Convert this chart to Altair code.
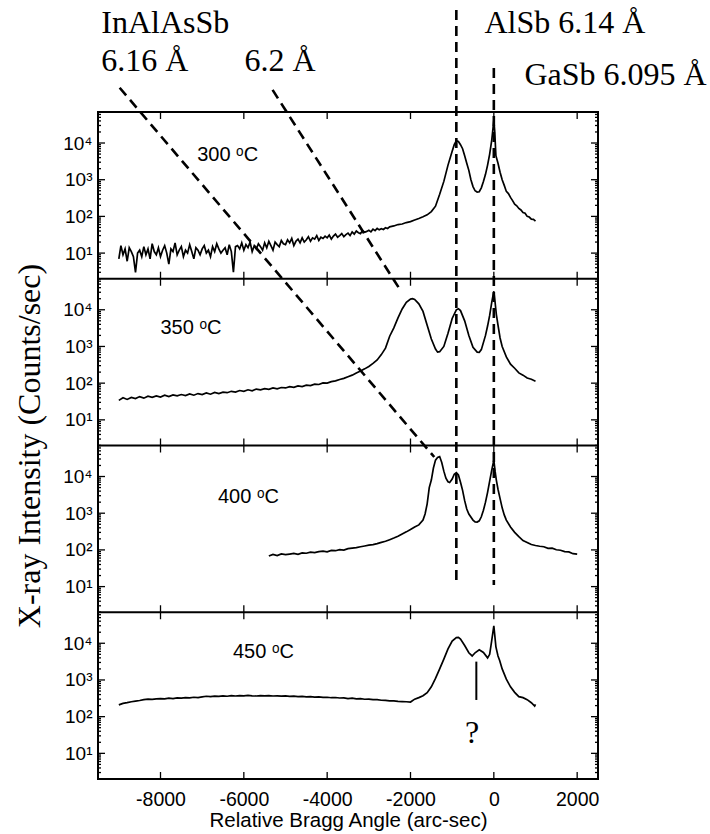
import math
import altair as alt
import pandas as pd

# ---------------- data ----------------
# 300 C scan: noisy baseline on a 50 arcsec grid, then the peak region
X_300_NOISY = list(range(-9000, -2500, 50))
I_300_NOISY = [
    7, 16, 9, 13, 6, 14, 11, 8, 3, 10,
    12, 8, 15, 9, 13, 7, 18, 11, 9, 14,
    8, 12, 16, 10, 5, 13, 11, 19, 9, 12,
    15, 8, 12, 10, 17, 11, 7, 14, 12, 9,
    13, 16, 10, 12, 8, 15, 11, 18, 13, 10,
    12, 14, 9, 17, 11, 3, 15, 16, 13, 19,
    12, 17, 14, 20, 11, 16, 13, 18, 15, 12,
    19, 14, 21, 16, 12, 20, 17, 15, 22, 18,
    17, 23, 19, 25, 16, 21, 24, 19, 26, 20,
    23, 28, 21, 26, 24, 30, 22, 27, 25, 29,
    26, 31, 24, 29, 33, 27, 30, 34, 28, 32,
    35, 30, 38, 33, 40, 36, 34, 41, 37, 39,
    42, 38, 45, 41, 47, 43, 46, 44, 49, 47,
]
X_300_PEAK = [-2500, -2400, -2300, -2200, -2100, -2000, -1900, -1800, -1700, -1600,
              -1500, -1400, -1300, -1200, -1100, -1000,
              -950, -900, -850, -800, -750, -700, -650, -600, -550, -500,
              -450, -400, -350, -300, -250, -200, -150, -100, -50,
              -20, 0, 20, 50,
              100, 150, 200, 250, 300, 350, 400, 450, 500, 550, 600, 650, 700, 750,
              800, 850, 900, 950, 1000]
I_300_PEAK = [52, 55, 60, 62, 68, 72, 80, 88, 98, 110,
              135, 190, 400, 900, 2500, 6000,
              9000, 11500, 11000, 9000, 7000, 4500, 2800, 1800, 1000, 650,
              500, 460, 470, 600, 900, 1400, 2500, 5000, 12000,
              25000, 42000, 22000, 4500,
              2800, 1600, 1000, 700, 480, 420, 330, 270, 215, 195, 165, 150, 128, 122,
              100, 96, 84, 83, 74]

# 350 C scan
X_350_NOISY = list(range(-9000, -2700, 100))
I_350_NOISY = [
    34, 40, 36, 41, 38, 43, 39, 44, 41, 45,
    42, 47, 43, 48, 45, 49, 46, 51, 47, 52,
    49, 54, 50, 56, 52, 57, 55, 60, 57, 63,
    60, 66, 62, 69, 66, 71, 68, 74, 70, 76,
    74, 80, 77, 84, 81, 88, 86, 94, 92, 102,
    100, 110, 115, 126, 135, 150, 165, 190, 215, 245,
    285, 345, 430,
]
X_350_PEAK = [-2700, -2600, -2500, -2400, -2300, -2200, -2100, -2000, -1950, -1900,
              -1800, -1700, -1600, -1500, -1400, -1350, -1300, -1200, -1100, -1000,
              -900, -850, -800, -700, -600, -500, -400, -350, -300, -200,
              -150, -100, -50, 0, 30, 60, 100, 150, 200,
              300, 400, 500, 600, 700, 800, 900, 1000]
I_350_PEAK = [600, 900, 1900, 3200, 6000, 10500, 16000, 19500, 20000, 19000,
              14500, 9000, 3800, 1600, 850, 700, 720, 1000, 2300, 5800,
              10000, 10700, 9500, 5000, 2000, 950, 700, 690, 820, 2000,
              3600, 7000, 16000, 32000, 16000, 7500, 3800, 1700, 1000,
              520, 330, 255, 190, 165, 138, 128, 113]

# 400 C scan
X_400_NOISY = list(range(-5400, -2000, 100))
I_400_NOISY = [
    68, 75, 70, 78, 74, 77, 80, 76, 83, 81,
    87, 84, 90, 93, 89, 97, 95, 102, 99, 108,
    112, 115, 122, 128, 135, 140, 148, 160, 172, 190,
    210, 235, 270, 310,
]
X_400_PEAK = [-2000, -1900, -1800, -1700,
              -1650, -1600, -1550, -1500, -1450, -1400, -1350, -1300, -1250, -1200, -1150, -1100,
              -1060,
              -1000, -950, -900, -850, -800, -750, -700, -650, -600,
              -500, -450, -400, -350, -300, -250, -200, -150,
              -100, -50, 0, 30, 60,
              100, 150, 200, 250, 300,
              400, 500, 600, 700, 800, 900, 1000, 1100, 1200, 1300, 1400, 1500,
              1600, 1700, 1800, 1900, 2000]
I_400_PEAK = [360, 420, 480, 650,
              950, 1800, 5000, 8000, 17000, 28000, 33000, 35000, 24000, 14000, 9000, 7200,
              6900,
              8500, 11500, 12800, 11000, 7000, 4200, 2200, 1300, 950,
              650, 580, 575, 620, 800, 1200, 2000, 3700,
              7500, 15000, 28000, 14000, 8000,
              4500, 2500, 1400, 900, 650,
              420, 300, 230, 180, 160, 140, 132, 126, 122, 110, 112, 101,
              98, 90, 88, 79, 77]

# 450 C scan
X_450_NOISY = list(range(-9000, -2000, 100))
I_450_NOISY = [
    210, 230, 240, 255, 265, 275, 290, 300, 295, 305,
    310, 305, 318, 312, 325, 320, 330, 325, 338, 332,
    345, 360, 350, 362, 355, 368, 360, 372, 365, 375,
    370, 378, 370, 365, 375, 368, 372, 365, 370, 362,
    368, 358, 362, 352, 356, 348, 350, 340, 345, 335,
    338, 328, 332, 322, 325, 312, 318, 305, 310, 298,
    300, 290, 292, 280, 278, 270, 268, 262, 258, 255,
]
X_450_PEAK = [-2000, -1900, -1800, -1700, -1600, -1500, -1400, -1300, -1200, -1100, -1000, -900,
              -850, -800, -700, -600,
              -520, -450, -350, -250, -150, -100, -50, 0, 50, 100, 140, 200,
              300, 400, 500, 600, 700, 800, 900, 980, 1000]
I_450_PEAK = [250, 300, 330, 370, 450, 650, 1100, 2000, 3700, 7000, 11500, 14300,
              14500, 13000, 8700, 5500,
              4500, 5500, 6600, 5600, 4000, 5000, 12000, 30000, 8000, 4500, 3400, 2000,
              1050, 650, 460, 350, 330, 290, 240, 195, 215]

PANEL_LABELS = ["300 \u1d52C", "350 \u1d52C", "400 \u1d52C", "450 \u1d52C"]
LABEL_X = [-7120, -8000, -6620, -6260]
LABEL_I = [3200, 2200, 1950, 4000]

X_TICKS = [-8000, -6000, -4000, -2000, 0, 2000]
Y_MAJOR = [10, 100, 1000, 10000]
Y_MINOR = [2, 3, 4, 5, 6, 7, 8, 9, 20, 30, 40, 50, 60, 70, 80, 90,
           200, 300, 400, 500, 600, 700, 800, 900,
           2000, 3000, 4000, 5000, 6000, 7000, 8000, 9000,
           20000, 30000, 40000, 50000, 60000, 70000]

# reference lines: AlSb, GaSb (vertical) and InAlAsSb guides (diagonal)
DASH_X1 = [-900, 0, -8980, -5310]
DASH_P1 = [0, 0, 0, 0]
DASH_I1 = [4.2e7, 1.1e6, 3.2e5, 2.8e5]
DASH_X2 = [-900, 0, -1430, -2215]
DASH_P2 = [2, 2, 2, 1]
DASH_I2 = [11, 11, 34000, 30500]

ANN_TEXT = ["InAlAsSb", "6.16 \u00c5", "6.2 \u00c5", "AlSb 6.14 \u00c5", "GaSb 6.095 \u00c5"]
ANN_X = [-9420, -9420, -5985, -225, 735]
ANN_I = [1.0e7, 9.2e5, 9.2e5, 1.0e7, 3.8e5]

Q_X, Q_I = -520, 19
MARK_X, MARK_I1, MARK_I2 = -420, 3160, 285

# ---------------- geometry ----------------
X_DOMAIN = [-9500, 2500]
LO = math.log10(2)
HI = math.log10(70000)
SPAN = HI - LO
W, H = 500, 667
PX_X = (X_DOMAIN[1] - X_DOMAIN[0]) / W
PX_Y = 4 * SPAN / H

VEXPR = "log(datum.{i})/LN10 - %f + %f*(3 - datum.{p})" % (LO, SPAN)


def vpos(panel, inten):
    return math.log10(inten) - LO + SPAN * (3 - panel)


rows = []
for k, (xa, ia, xb, ib) in enumerate([
    (X_300_NOISY, I_300_NOISY, X_300_PEAK, I_300_PEAK),
    (X_350_NOISY, I_350_NOISY, X_350_PEAK, I_350_PEAK),
    (X_400_NOISY, I_400_NOISY, X_400_PEAK, I_400_PEAK),
    (X_450_NOISY, I_450_NOISY, X_450_PEAK, I_450_PEAK),
]):
    for xv, iv in zip(xa + xb, ia + ib):
        rows.append({"x": xv, "I": iv, "panel": k})
curves = pd.DataFrame(rows)

x_scale = alt.Scale(domain=X_DOMAIN, nice=False, zero=False)
y_scale = alt.Scale(domain=[0, 4 * SPAN], nice=False, zero=False)

ytick_vals = [round(vpos(k, m), 6) for k in range(4) for m in Y_MAJOR]
label_expr = ("'10' + ['\u2070','\u00b9','\u00b2','\u00b3','\u2074']"
              "[round(datum.value + %f - %f*floor(datum.value/%f))]" % (LO, SPAN, SPAN))

X_AXIS = alt.Axis(values=X_TICKS, labelExpr="'' + datum.value", ticks=False, domain=False,
                  grid=False, labelFont="Liberation Sans", labelFontSize=19.5, labelColor="black",
                  labelPadding=11, labelFlush=False,
                  title="Relative Bragg Angle (arc-sec)", titleFont="Liberation Sans",
                  titleFontSize=20.5, titleFontWeight="normal", titleColor="black",
                  titlePadding=2)
Y_AXIS = alt.Axis(values=ytick_vals, labelExpr=label_expr, ticks=False, domain=False,
                  grid=False, labelFont="Liberation Sans", labelFontSize=19,
                  labelColor="black", labelPadding=6, labelFlush=False,
                  title="X-ray Intensity (Counts/sec)", titleFont="Liberation Serif",
                  titleFontSize=32, titleFontWeight="normal", titleColor="black",
                  titlePadding=16)


def X(field):
    return alt.X(field, scale=x_scale, axis=X_AXIS)


def Y(field):
    return alt.Y(field, scale=y_scale, axis=Y_AXIS)


base = alt.Chart(curves).transform_calculate(v=VEXPR.format(i="I", p="panel"))

lines = base.mark_line(color="black", strokeWidth=1.7, clip=True).encode(
    x=X("x:Q"), y=Y("v:Q"), detail="panel:N", order="x:Q")

# ---------- tick marks and panel frames (built from tick arrays) ----------
trows = []
for k in range(5):
    vb = SPAN * k
    up = 7 * PX_Y if k < 4 else 0
    dn = 7 * PX_Y if k > 0 else 0
    for xt in X_TICKS:
        trows.append({"x": xt, "x2": xt, "y": vb - dn, "y2": vb + up})
for k in range(4):
    for m in Y_MAJOR:
        vv = vpos(k, m)
        trows.append({"x": X_DOMAIN[0], "x2": X_DOMAIN[0] + 7 * PX_X, "y": vv, "y2": vv})
        trows.append({"x": X_DOMAIN[1] - 7 * PX_X, "x2": X_DOMAIN[1], "y": vv, "y2": vv})
    for m in Y_MINOR:
        vv = vpos(k, m)
        trows.append({"x": X_DOMAIN[0], "x2": X_DOMAIN[0] + 3 * PX_X, "y": vv, "y2": vv})
        trows.append({"x": X_DOMAIN[1] - 3 * PX_X, "x2": X_DOMAIN[1], "y": vv, "y2": vv})
ticks = alt.Chart(pd.DataFrame(trows)).mark_rule(color="black", strokeWidth=1.3, clip=False).encode(
    x=X("x:Q"), x2="x2:Q", y=Y("y:Q"), y2="y2:Q")

frames = alt.Chart(pd.DataFrame({"y": [SPAN * k for k in range(1, 4)]})).mark_rule(
    color="black", strokeWidth=2, clip=False).encode(
    x=alt.value(0), x2=alt.value(W), y=Y("y:Q"))

# ---------- dashed guide lines ----------
dash_df = pd.DataFrame({"x": DASH_X1, "p": DASH_P1, "I": DASH_I1,
                        "x2": DASH_X2, "p2": DASH_P2, "I2": DASH_I2})
dashes = alt.Chart(dash_df).transform_calculate(
    v=VEXPR.format(i="I", p="p"), v2=VEXPR.format(i="I2", p="p2")
).mark_rule(color="black", strokeWidth=2.6, strokeDash=[10, 6], clip=False).encode(
    x=X("x:Q"), x2="x2:Q", y=Y("v:Q"), y2="v2:Q")

# ---------- annotations ----------
ann_df = pd.DataFrame({"x": ANN_X, "I": ANN_I, "p": 0, "t": ANN_TEXT})
ann = alt.Chart(ann_df).transform_calculate(v=VEXPR.format(i="I", p="p")).mark_text(
    align="left", baseline="alphabetic", font="Liberation Serif", fontSize=32,
    color="black", clip=False).encode(x=X("x:Q"), y=Y("v:Q"), text="t:N")

lab_df = pd.DataFrame({"x": LABEL_X, "I": LABEL_I, "p": [0, 1, 2, 3], "t": PANEL_LABELS})
labs = alt.Chart(lab_df).transform_calculate(v=VEXPR.format(i="I", p="p")).mark_text(
    align="left", baseline="alphabetic", font="Liberation Sans", fontSize=20,
    color="black", clip=False).encode(x=X("x:Q"), y=Y("v:Q"), text="t:N")

q_df = pd.DataFrame({"x": [Q_X], "I": [Q_I], "p": [3], "t": ["?"]})
q = alt.Chart(q_df).transform_calculate(v=VEXPR.format(i="I", p="p")).mark_text(
    align="center", baseline="alphabetic", font="Liberation Serif", fontSize=32,
    color="black", clip=False).encode(x=X("x:Q"), y=Y("v:Q"), text="t:N")

m_df = pd.DataFrame({"x": [MARK_X], "I": [MARK_I1], "I2": [MARK_I2], "p": [3]})
mark = alt.Chart(m_df).transform_calculate(
    v=VEXPR.format(i="I", p="p"), v2=VEXPR.format(i="I2", p="p")
).mark_rule(color="black", strokeWidth=2, clip=False).encode(
    x=X("x:Q"), y=Y("v:Q"), y2="v2:Q")

chart = alt.layer(lines, ticks, frames, dashes, ann, labs, q, mark).properties(
    width=W, height=H,
    autosize=alt.AutoSizeParams(type="none"),
    padding={"left": 98, "top": 112, "right": 112, "bottom": 55},
    background="white",
).configure_view(stroke="black", strokeWidth=2)

chart.save("out.html", embed_options={"renderer": "svg", "actions": False})
